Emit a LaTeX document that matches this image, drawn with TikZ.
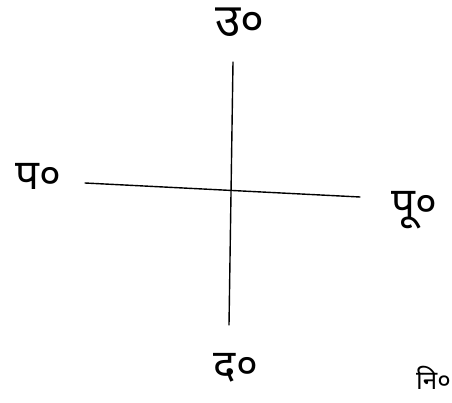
\documentclass[tikz,border=0pt]{standalone}
\usepackage{fontspec}
\newfontfamily\deva[Script=Devanagari]{Noto Sans}
\usetikzlibrary{positioning}
\tikzset{
  dir/.style={font=\deva\fontsize{42}{42}\selectfont,inner sep=0pt},
  axis/.style={line width=1.4pt,line cap=round}
}

\begin{document}
\begin{tikzpicture}[x=1pt,y=-1pt]
\useasboundingbox (0,0) rectangle (452,403);
\node[dir,font=\deva\fontsize{46}{46}\selectfont] (north) at (240,22) {उ०};
\node[dir] (west) at (38,176) {प०};
\node[dir] (east) at (414,210) {पू०};
\node[dir] (south) at (236,368) {द०};
\node[dir,font=\deva\fontsize{26}{26}\selectfont,anchor=east] (nw) at (451,378) {नि०};
\coordinate (ntop) at (233,62);
\coordinate (sbot) at (229,325);
\coordinate (wend) at (85,183);
\coordinate (eend) at (360,197);
\draw[axis] (ntop) -- (sbot);
\draw[axis] (wend) -- (eend);
\end{tikzpicture}
\end{document}
